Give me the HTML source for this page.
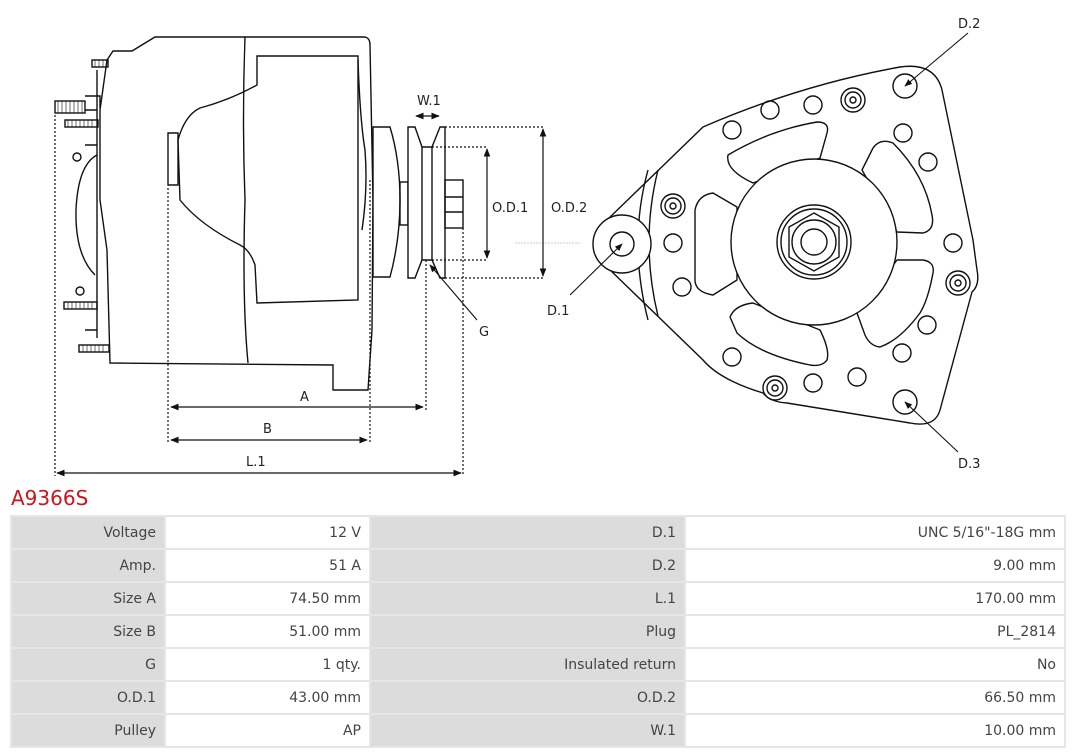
<!DOCTYPE html>
<html><head><meta charset="utf-8"><style>
body{margin:0;width:1080px;height:753px;background:#fff;overflow:hidden;position:relative;font-family:"DejaVu Sans","Liberation Sans",sans-serif;}
svg{position:absolute;left:0;top:0}
.t{position:absolute;left:11px;top:486px;color:#d0121b;font-size:20px;font-family:"DejaVu Sans",sans-serif}
table{position:absolute;left:10px;top:515px;width:1056px;table-layout:fixed;border-collapse:separate;border-spacing:2px;background:#e6e6e6;font-size:14px;color:#444}
td{height:31px;padding:0 8px;text-align:right;white-space:nowrap;box-sizing:border-box}
td.l{background:#dcdcdc}
td.v{background:#fff}
</style></head><body>
<svg width="1080" height="490" viewBox="0 0 1080 490" fill="none" stroke="#111" stroke-width="1.4" font-family="DejaVu Sans, sans-serif">
<defs><marker id="a" viewBox="0 0 10 10" refX="9" refY="5" markerWidth="7" markerHeight="7" orient="auto-start-reverse"><path d="M0,1 L10,5 L0,9 z" fill="#111" stroke="none"/></marker></defs>
<path d="M110,363 L107,250 L100,200 L100,110 L107,60 L113,51 L132,51 L155,37 L365,37 Q370,38 370,45 L373,200 L372,330 L368,390 L333,390 L333,365 Z" fill="#fff"/>
<path d="M245,37 Q242,120 245,200 Q242,300 248,363"/>
<path d="M257,56 L358,56 L358,300 L257,303 L255,265 Q250,250 240,245 Q200,225 180,200 L178,140 Q185,115 200,108 Q230,100 257,85 Z"/>
<path d="M168,133 L178,133 L178,185 L168,185 Z"/>
<path d="M358,60 Q360,120 365,150 Q368,190 362,230"/>
<path d="M97,70 L97,338 M85,96 L100,96 L100,108 M85,110 L97,110"/>
<path d="M85,145 L97,145 M85,330 L97,330 M97,155 Q78,165 76,210 Q75,255 95,275"/>
<rect x="55" y="101" width="30" height="12"/><rect x="65" y="120" width="33" height="7"/>
<rect x="92" y="60" width="16" height="7"/><rect x="64" y="302" width="33" height="7"/><rect x="79" y="345" width="30" height="7"/>
<circle cx="77" cy="157" r="4"/><circle cx="80" cy="291" r="4"/>
<g stroke-width="0.6"><path d="M58,101v12M62,101v12M66,101v12M70,101v12M74,101v12M78,101v12M82,101v12M68,120v7M72,120v7M76,120v7M80,120v7M84,120v7M88,120v7M92,120v7M95,60v7M99,60v7M103,60v7M68,302v7M72,302v7M76,302v7M80,302v7M84,302v7M88,302v7M92,302v7M83,345v7M87,345v7M91,345v7M95,345v7M99,345v7M103,345v7"/></g>
<path d="M373,127 L390,127 Q400,160 400,200 Q400,240 390,277 L373,277 Z" fill="#fff"/>
<rect x="400" y="182" width="8" height="43"/>
<path d="M408,127 L415,127 L422,147 L432,147 L440,127 L445,127 L445,278 L440,278 L432,260 L422,260 L415,278 L408,278 Z" fill="#fff"/>
<path d="M422,147 L422,260 M432,147 L432,260"/>
<rect x="445" y="180" width="18" height="48"/><path d="M445,197 L463,197 M445,212 L463,212"/>
<g stroke-dasharray="2,2" stroke-width="1.2">
<path d="M445,127 L545,127 M432,147 L487,147 M432,260 L487,260 M445,278 L545,278"/>
<path d="M55,115 L55,476 M168,188 L168,443 M370,180 L370,443 M426,260 L426,410 M463,228 L463,476"/>
</g>
<path d="M515,243 L580,243" stroke="#bbb" stroke-width="0.8" stroke-dasharray="2,1"/>
<g marker-start="url(#a)" marker-end="url(#a)" stroke-width="1.2">
<path d="M487,149 L487,258"/><path d="M543,129 L543,276"/><path d="M416,116 L439,116"/>
<path d="M171,407 L423,407"/><path d="M171,440 L367,440"/><path d="M57,473 L461,473"/>
</g>
<path d="M477,320 L430,265" marker-end="url(#a)" stroke-width="1.1"/>
<g fill="#222" stroke="none" font-size="13">
<text x="417" y="105">W.1</text><text x="492" y="212">O.D.1</text><text x="551" y="212">O.D.2</text>
<text x="479" y="336">G</text><text x="300" y="401">A</text><text x="263" y="433">B</text><text x="246" y="466">L.1</text>
<text x="958" y="28">D.2</text><text x="958" y="468">D.3</text><text x="547" y="315">D.1</text>
</g>
<path d="M703,127 Q800,85 900,67 Q935,62 942,90 L973,240 L977,270 Q980,285 972,292 L940,410 Q935,428 910,423 L787,403 Q770,402 763,393 Q720,380 703,360 L607,267 L607,220 Z" fill="#fff"/>
<path d="M658,170 Q640,242 658,316"/>
<path d="M648,170 Q628,242 648,320"/>
<circle cx="622" cy="244" r="29" fill="#fff"/><circle cx="622" cy="244" r="12"/>
<g stroke-linejoin="round" fill="#fff">
<path d="M728,155 Q770,130 817,122 Q830,122 827,133 L820,158 L753,183 Q725,170 728,155 Z"/>
<path d="M695,210 Q698,195 713,193 L737,207 L737,280 L713,295 Q695,292 695,280 Z"/>
<path d="M730,317 Q735,305 753,303 L820,330 Q830,350 827,360 Q822,367 810,365 Q760,355 737,333 Z"/>
<path d="M862,170 L873,148 Q880,138 893,143 Q925,175 932,215 Q935,230 923,233 L897,232 Z"/>
<path d="M897,260 L923,260 Q935,262 933,273 Q928,300 920,313 Q900,340 880,347 Q870,346 865,335 L857,313 Z"/>
</g>
<circle cx="814" cy="242" r="83" fill="#fff"/>
<circle cx="814" cy="242" r="37"/><circle cx="814" cy="242" r="33"/>
<path d="M814,213 L839,227 L839,257 L814,271 L789,257 L789,227 Z"/>
<circle cx="814" cy="242" r="22"/><circle cx="814" cy="242" r="13"/>
<g>
<circle cx="770" cy="110" r="9"/><circle cx="813" cy="105" r="9"/><circle cx="732" cy="130" r="9"/>
<circle cx="903" cy="133" r="9"/><circle cx="928" cy="162" r="9"/><circle cx="673" cy="243" r="9"/>
<circle cx="953" cy="243" r="9"/><circle cx="682" cy="287" r="9"/><circle cx="927" cy="325" r="9"/>
<circle cx="902" cy="353" r="9"/><circle cx="732" cy="357" r="9"/><circle cx="813" cy="383" r="9"/><circle cx="857" cy="377" r="9"/>
<circle cx="905" cy="86" r="12"/><circle cx="905" cy="402" r="12"/>
</g>
<g>
<circle cx="853" cy="100" r="12"/><circle cx="853" cy="100" r="8"/><circle cx="853" cy="100" r="3"/>
<circle cx="673" cy="206" r="12"/><circle cx="673" cy="206" r="8"/><circle cx="673" cy="206" r="3"/>
<circle cx="958" cy="283" r="12"/><circle cx="958" cy="283" r="8"/><circle cx="958" cy="283" r="3"/>
<circle cx="775" cy="388" r="12"/><circle cx="775" cy="388" r="8"/><circle cx="775" cy="388" r="3"/>
</g>
<g stroke-width="1.1" marker-end="url(#a)">
<path d="M968,33 L905,86"/><path d="M958,452 L905,402"/><path d="M570,295 L622,244"/>
</g>
</svg>
<div class="t">A9366S</div>
<table>
<colgroup><col style="width:152px"><col style="width:203px"><col style="width:313px"><col></colgroup>
<tr><td class="l">Voltage</td><td class="v">12 V</td><td class="l">D.1</td><td class="v">UNC 5/16"-18G mm</td></tr>
<tr><td class="l">Amp.</td><td class="v">51 A</td><td class="l">D.2</td><td class="v">9.00 mm</td></tr>
<tr><td class="l">Size A</td><td class="v">74.50 mm</td><td class="l">L.1</td><td class="v">170.00 mm</td></tr>
<tr><td class="l">Size B</td><td class="v">51.00 mm</td><td class="l">Plug</td><td class="v">PL_2814</td></tr>
<tr><td class="l">G</td><td class="v">1 qty.</td><td class="l">Insulated return</td><td class="v">No</td></tr>
<tr><td class="l">O.D.1</td><td class="v">43.00 mm</td><td class="l">O.D.2</td><td class="v">66.50 mm</td></tr>
<tr><td class="l">Pulley</td><td class="v">AP</td><td class="l">W.1</td><td class="v">10.00 mm</td></tr>
</table>
</body></html>
